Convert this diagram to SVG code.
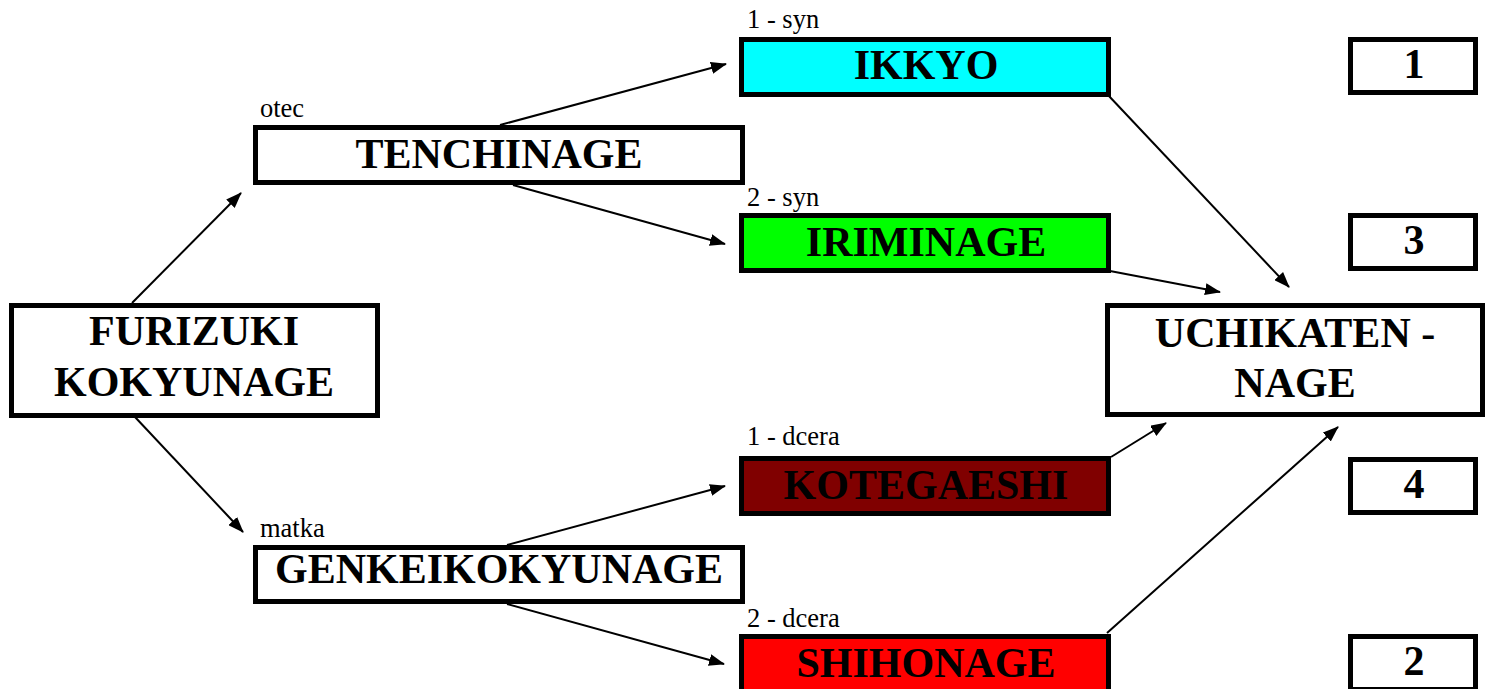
<svg xmlns="http://www.w3.org/2000/svg" width="1486" height="689" viewBox="0 0 1486 689">
<style>
.box{stroke:#000;stroke-width:5;fill:#fff}
.t{font-family:"Liberation Serif","Times New Roman",serif;font-weight:bold;font-size:42px;text-anchor:middle;fill:#000}
.l{font-family:"Liberation Serif","Times New Roman",serif;font-size:26.5px;fill:#000}
.c{stroke:#000;stroke-width:2;fill:none;marker-end:url(#ah)}
</style>
<defs>
<marker id="ah" viewBox="0 0 16 12" refX="15" refY="6" markerWidth="16" markerHeight="12" markerUnits="userSpaceOnUse" orient="auto">
<path d="M0,0 L16,6 L0,12 Z" fill="#000"/>
</marker>
</defs>
<rect width="1486" height="689" fill="#fff"/>
<g id="connectors">
<line class="c" x1="132" y1="303" x2="241" y2="193"/>
<line class="c" x1="135" y1="417" x2="243" y2="532"/>
<line class="c" x1="500" y1="125" x2="726" y2="64"/>
<line class="c" x1="513" y1="185" x2="725" y2="244"/>
<line class="c" x1="507" y1="545" x2="725" y2="486"/>
<line class="c" x1="507" y1="604" x2="724" y2="664"/>
<line class="c" x1="1108" y1="95" x2="1289" y2="287"/>
<line class="c" x1="1110" y1="271" x2="1220" y2="292"/>
<line class="c" x1="1111" y1="457" x2="1166" y2="423"/>
<line class="c" x1="1107" y1="633" x2="1338" y2="427"/>
</g>
<g id="furizuki">
<rect class="box" x="11.5" y="305.5" width="366" height="110"/>
<text class="t" x="194" y="345">FURIZUKI</text>
<text class="t" x="194" y="396">KOKYUNAGE</text>
</g>
<g id="tenchinage">
<text class="l" x="260" y="117">otec</text>
<rect class="box" x="255.5" y="127.5" width="487" height="55"/>
<text class="t" x="499" y="168">TENCHINAGE</text>
</g>
<g id="genkei">
<text class="l" x="260" y="537">matka</text>
<rect class="box" x="255.5" y="547.5" width="487" height="54"/>
<text class="t" x="499" y="583">GENKEIKOKYUNAGE</text>
</g>
<g id="ikkyo">
<text class="l" x="747" y="28">1 - syn</text>
<rect class="box" x="741.5" y="39.5" width="367" height="55" style="fill:#00ffff"/>
<text class="t" x="926" y="79">IKKYO</text>
</g>
<g id="iriminage">
<text class="l" x="747" y="206">2 - syn</text>
<rect class="box" x="741.5" y="215.5" width="367" height="55" style="fill:#00ff00"/>
<text class="t" x="926" y="256">IRIMINAGE</text>
</g>
<g id="kotegaeshi">
<text class="l" x="747" y="445">1 - dcera</text>
<rect class="box" x="741.5" y="458.5" width="367" height="55" style="fill:#800000"/>
<text class="t" x="926" y="499">KOTEGAESHI</text>
</g>
<g id="shihonage">
<text class="l" x="747" y="627">2 - dcera</text>
<rect class="box" x="741.5" y="636.5" width="367" height="55" style="fill:#ff0000"/>
<text class="t" x="926" y="677">SHIHONAGE</text>
</g>
<g id="uchikaten">
<rect class="box" x="1107.5" y="305.5" width="375" height="109"/>
<text class="t" x="1295" y="347">UCHIKATEN -</text>
<text class="t" x="1295" y="397">NAGE</text>
</g>
<g id="n1">
<rect class="box" x="1350.5" y="39.5" width="125" height="53"/>
<text class="t" x="1414" y="78">1</text>
</g>
<g id="n3">
<rect class="box" x="1350.5" y="215.5" width="125" height="53"/>
<text class="t" x="1414" y="254">3</text>
</g>
<g id="n4">
<rect class="box" x="1350.5" y="459.5" width="125" height="53"/>
<text class="t" x="1414" y="498">4</text>
</g>
<g id="n2">
<rect class="box" x="1350.5" y="636.5" width="125" height="53"/>
<text class="t" x="1414" y="675">2</text>
</g>
</svg>
